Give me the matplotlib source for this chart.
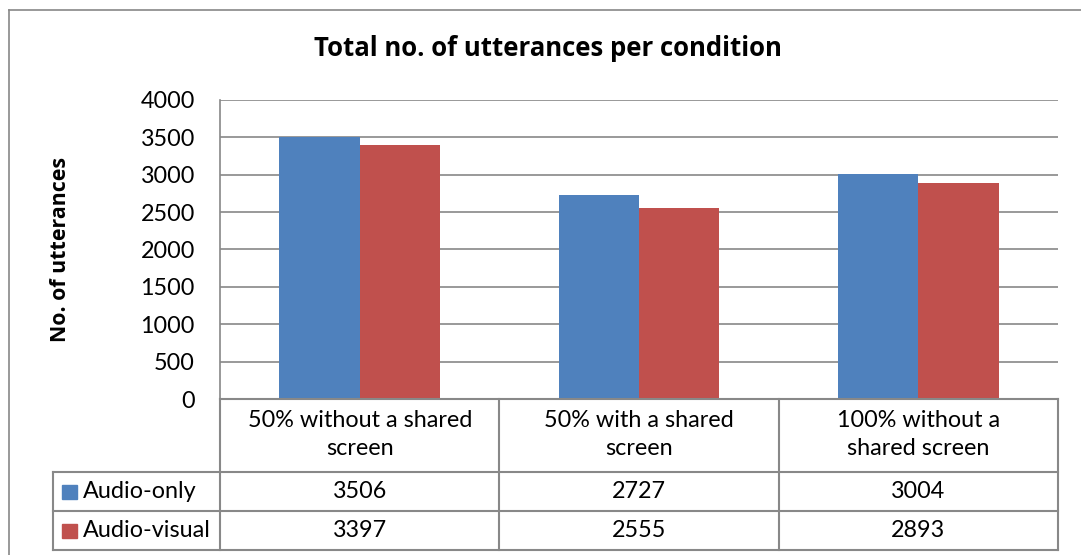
import matplotlib.pyplot as plt
import matplotlib.lines as mlines
import matplotlib.patches as mpatches

categories = ["50% without a shared\nscreen", "50% with a shared\nscreen", "100% without a\nshared screen"]
series_names = ["Audio-only", "Audio-visual"]
audio_only = [3506, 2727, 3004]
audio_visual = [3397, 2555, 2893]
yticks = [0, 500, 1000, 1500, 2000, 2500, 3000, 3500, 4000]
colors = ["#4f81bd", "#c0504d"]

plt.rcParams['font.family'] = ['Lato', 'DejaVu Sans']
FS = 16.8
W, H = 1081, 555
fig = plt.figure(figsize=(W / 100, H / 100), dpi=100)

def box(x0, y0, x1, y1):
    # pixel box (top-left origin) -> figure fraction rect
    return [x0 / W, 1 - y1 / H, (x1 - x0) / W, (y1 - y0) / H]

grid_c = "#888888"

# outer chart border (left and top visible)
fig.add_artist(mlines.Line2D([9 / W, 9 / W], [0, 1 - 10 / H], color=grid_c, lw=1.2))
fig.add_artist(mlines.Line2D([9 / W, 1], [1 - 10 / H, 1 - 10 / H], color=grid_c, lw=1.2))

ax = fig.add_axes(box(220, 100, 1058, 399))
n = len(categories)
w = 0.287
xs = list(range(n))
ax.bar([x - w / 2 for x in xs], audio_only, width=w, color=colors[0], zorder=3)
ax.bar([x + w / 2 for x in xs], audio_visual, width=w, color=colors[1], zorder=3)
ax.set_xlim(-0.5, n - 0.5)
ax.set_ylim(0, 4000)
ax.set_yticks(yticks)
ax.set_yticklabels([str(v) for v in yticks], fontsize=FS)
ax.tick_params(axis='y', length=0, pad=18)
ax.set_xticks([])
ax.yaxis.grid(True, color=grid_c, lw=1.2, zorder=0)
for s in ["top", "right", "bottom"]:
    ax.spines[s].set_visible(False)
ax.spines["left"].set_color(grid_c)
ax.spines["left"].set_linewidth(1.2)
ax.set_ylabel("No. of utterances", fontsize=15.4, fontweight="bold", family=["Open Sans", "DejaVu Sans"])
ax.yaxis.set_label_coords((71 - 220) / 838, 0.5)

fig.text(548 / W, 1 - 48 / H, "Total no. of utterances per condition", ha="center", va="center",
         fontsize=18.5, fontweight="bold", family=["Open Sans", "DejaVu Sans"])

# data table below the plot
leg_w = (220 - 53) / 279
tax = fig.add_axes(box(53, 399, 1058, 550))
tax.set_xlim(-0.5 - leg_w, n - 0.5)
tax.set_ylim(151, 0)
tax.axis("off")
rows = [0, 73, 112, 151]
lk = dict(color=grid_c, lw=1.5, clip_on=False)
tax.plot([-0.5, n - 0.5], [rows[0], rows[0]], **lk)
for r in rows[1:]:
    tax.plot([-0.5 - leg_w, n - 0.5], [r, r], **lk)
for i in range(n + 1):
    tax.plot([i - 0.5, i - 0.5], [rows[0], rows[3]], **lk)
tax.plot([-0.5 - leg_w, -0.5 - leg_w], [rows[1], rows[3]], **lk)

for i, c in enumerate(categories):
    tax.text(i, (rows[0] + rows[1]) / 2 - 1, c, ha="center", va="center", fontsize=FS, linespacing=1.4)
for r, (name, vals, col) in enumerate(zip(series_names, [audio_only, audio_visual], colors)):
    yc = (rows[r + 1] + rows[r + 2]) / 2
    for i, v in enumerate(vals):
        tax.text(i, yc, str(v), ha="center", va="center", fontsize=FS)
    x0 = -0.5 - leg_w + 9 / 279
    tax.add_patch(mpatches.Rectangle((x0, yc - 7), 15 / 279, 14, color=col, clip_on=False))
    tax.text(x0 + 21 / 279, yc, name, ha="left", va="center", fontsize=FS)

fig.savefig("out.png", dpi=100)
